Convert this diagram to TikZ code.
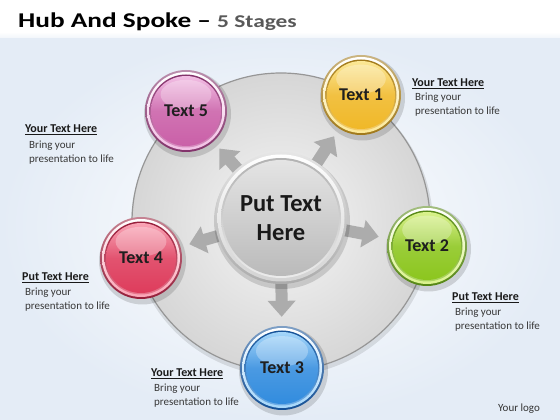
\documentclass[tikz,border=0pt]{standalone}
\usepackage{fontspec}
\setmainfont{Carlito}
\usetikzlibrary{arrows.meta,calc}
\pgfdeclarelayer{bg}
\pgfsetlayers{bg,main}
\definecolor{bgblue}{RGB}{228,236,246}
\definecolor{discin}{RGB}{246,246,246}
\definecolor{discout}{RGB}{214,214,214}
\definecolor{discline}{RGB}{150,150,150}
\definecolor{arrowgray}{RGB}{172,172,172}
\definecolor{titlegray}{RGB}{89,89,89}
\definecolor{ybase}{RGB}{240,184,40}\definecolor{ylight}{RGB}{252,232,150}\definecolor{ydark}{RGB}{160,120,25}
\definecolor{gbase}{RGB}{140,198,30}\definecolor{glight}{RGB}{218,242,140}\definecolor{gdark}{RGB}{85,135,20}
\definecolor{bbase}{RGB}{50,140,222}\definecolor{blight}{RGB}{165,214,250}\definecolor{bdark}{RGB}{20,80,150}
\definecolor{rbase}{RGB}{222,60,92}\definecolor{rlight}{RGB}{250,165,182}\definecolor{rdark}{RGB}{150,30,58}
\definecolor{pbase}{RGB}{202,96,168}\definecolor{plight}{RGB}{242,190,228}\definecolor{pdark}{RGB}{130,50,106}
\newcommand{\stagedeco}[5]{%
  \fill[black,opacity=0.14] ([xshift=1.5pt,yshift=-3pt]#1.center) circle[radius=#2pt+2.5pt];
  \shade[top color=#5!55!white, bottom color=#5] (#1.center) circle[radius=#2pt];
  \shade[top color=white, bottom color=#4] (#1.center) circle[radius=#2pt-2pt];
  \shade[top color=#5, bottom color=#3!70!white] (#1.center) circle[radius=#2pt-4.5pt];
  \shade[top color=#4, bottom color=#3, middle color=#3!88!white] (#1.center) circle[radius=#2pt-6pt];
  \fill[white,opacity=0.28] ([yshift=#2*0.40pt]#1.center) ellipse[x radius=#2*0.62pt, y radius=#2*0.36pt];
}
\tikzset{
  stagetext/.style={circle, inner sep=0pt, minimum size=#1, font=\fontsize{18}{20}\selectfont\bfseries, text=black!88},
  hubtext/.style={circle, inner sep=0pt, minimum size=132pt, align=center, font=\fontsize{24.5}{29}\selectfont\bfseries, text=black!90},
  spoke/.style={draw=arrowgray, line width=12pt, -{Triangle[width=27pt,length=16pt]}, shorten <=-10pt, shorten >=9pt},
  blocktitle/.style={anchor=base west, inner sep=0pt, font=\fontsize{12}{14}\selectfont\bfseries, text=black!90},
  blockbody/.style={anchor=base west, inner sep=0pt, align=left, font=\fontsize{11}{14}\selectfont, text=black!78},
}
\begin{document}
\begin{tikzpicture}[x=1pt,y=1pt]
\useasboundingbox (0,0) rectangle (560,420);
% nodes
\node[anchor=base west, inner sep=0pt] (title) at (18,392) {\scalebox{1.3}[1]{\fontsize{21}{24}\selectfont\bfseries Hub And Spoke – {\color{titlegray}\fontsize{18}{20}\selectfont 5 Stages}}};
\node[hubtext] (hub) at (281,202) {Put Text\\Here};
\node[stagetext=80pt] (t1) at (361,325) {Text 1};
\node[stagetext=80pt] (t2) at (427,174) {Text 2};
\node[stagetext=84pt] (t3) at (282,52) {Text 3};
\node[stagetext=82pt] (t4) at (141,162) {Text 4};
\node[stagetext=82pt] (t5) at (186,309) {Text 5};
% text blocks
\node[blocktitle] (l1t) at (25,287) {\underline{Your Text Here}};
\node[blockbody] (l1b) at (29,257) {Bring your\\presentation to life};
\node[blocktitle] (r1t) at (412,333) {\underline{Your Text Here}};
\node[blockbody] (r1b) at (415,305) {Bring your\\presentation to life};
\node[blocktitle] (l2t) at (22,139) {\underline{Put Text Here}};
\node[blockbody] (l2b) at (25,110) {Bring your\\presentation to life};
\node[blocktitle] (r2t) at (452,119) {\underline{Put Text Here}};
\node[blockbody] (r2b) at (455,90) {Bring your\\presentation to life};
\node[blocktitle] (bt) at (151,43) {\underline{Your Text Here}};
\node[blockbody] (bb) at (154,14) {Bring your\\presentation to life};
\node[anchor=base west, inner sep=0pt, font=\fontsize{11}{12}\selectfont, text=black!80] (logo) at (498,8) {Your logo};
\begin{pgfonlayer}{bg}
  \shade[inner color=white, outer color=bgblue] (0,0) rectangle (560,388);
  \fill[white] (0,388) rectangle (560,420);
  \shade[top color=white, bottom color=bgblue!50] (0,382) rectangle (560,388);
  % big disc
  \fill[black,opacity=0.10] (282,195) circle[radius=151pt];
  \shade[inner color=discin, outer color=discout, draw=discline, line width=1.2pt] (281,198) circle[radius=149pt];
  % spokes
  \draw[spoke] (hub) -- (t1);
  \draw[spoke] (hub) -- (t2);
  \draw[spoke] (hub) -- (t3);
  \draw[spoke] (hub) -- (t4);
  \draw[spoke] (hub) -- (t5);
  % hub
  \fill[black,opacity=0.14] ([xshift=1pt,yshift=-3pt]hub.center) circle[radius=68pt];
  \shade[top color=gray!20, bottom color=gray!65] (hub.center) circle[radius=66pt];
  \shade[top color=white, bottom color=gray!35] (hub.center) circle[radius=63.5pt];
  \shade[top color=gray!60, bottom color=gray!15] (hub.center) circle[radius=60pt];
  \shade[top color={rgb,255:red,228;green,228;blue,228}, bottom color={rgb,255:red,186;green,186;blue,186}] (hub.center) circle[radius=58pt];
  % stages
  \stagedeco{t1}{40}{ybase}{ylight}{ydark}
  \stagedeco{t2}{40}{gbase}{glight}{gdark}
  \stagedeco{t3}{42}{bbase}{blight}{bdark}
  \stagedeco{t4}{41}{rbase}{rlight}{rdark}
  \stagedeco{t5}{41}{pbase}{plight}{pdark}
\end{pgfonlayer}
\end{tikzpicture}
\end{document}
